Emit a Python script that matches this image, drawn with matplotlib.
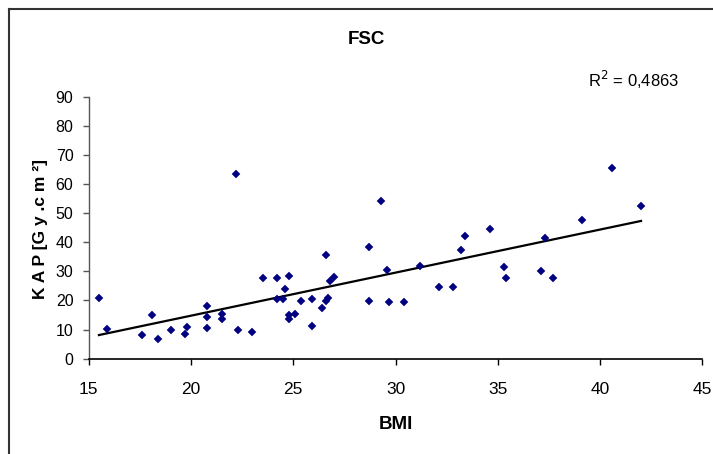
import numpy as np
import matplotlib.pyplot as plt
from matplotlib.lines import Line2D

# BMI vs KAP readings (FSC)
bmi = [15.5, 15.9, 17.6, 18.1, 18.4, 19.0, 19.7, 19.8, 20.8, 20.8, 20.8,
       21.5, 21.5, 22.2, 22.3, 23.0, 23.5, 24.2, 24.2, 24.5, 24.6, 24.8,
       24.8, 24.8, 25.1, 25.4, 25.9, 25.9, 26.4, 26.6, 26.6, 26.7, 26.8,
       27.0, 28.7, 28.7, 29.3, 29.6, 29.7, 30.4, 31.2, 32.1, 32.8, 33.2,
       33.4, 34.6, 35.3, 35.4, 37.1, 37.3, 37.7, 39.1, 40.6, 42.0]
kap = [20.9, 10.3, 8.0, 14.9, 6.9, 9.7, 8.4, 10.9, 18.2, 14.3, 10.7,
       13.8, 15.5, 63.3, 9.9, 9.2, 27.7, 27.7, 20.6, 20.6, 24.0, 28.4,
       15.0, 13.8, 15.5, 19.7, 20.5, 11.4, 17.5, 35.7, 19.8, 20.9, 26.6,
       28.1, 38.4, 19.7, 54.3, 30.4, 19.4, 19.4, 32.0, 24.6, 24.6, 37.3,
       42.1, 44.4, 31.5, 27.7, 30.0, 41.6, 27.7, 47.8, 65.6, 52.6]

title = "FSC"
r2_label = "R$^2$ = 0,4863"
x_ticks = [15, 20, 25, 30, 35, 40, 45]
y_ticks = [0, 10, 20, 30, 40, 50, 60, 70, 80, 90]

plt.rcParams["font.family"] = ["Liberation Sans", "DejaVu Sans"]

W, H = 713, 454
fig = plt.figure(figsize=(W / 100, H / 100), dpi=100)
ax = fig.add_axes([88.7 / W, 1 - 358.7 / H, (702.4 - 88.7) / W, (358.7 - 96.7) / H])

ax.plot(bmi, kap, linestyle="none", marker="D", markersize=3.9,
        color="#000080", markeredgewidth=0.3, clip_on=False, zorder=3)

# linear trendline through the data
coef = np.polyfit(bmi, kap, 1)
xs = np.array([min(bmi), max(bmi)])
ax.plot(xs, np.polyval(coef, xs), color="black", linewidth=1.6, zorder=2)

ax.set_xlim(15, 45)
ax.set_ylim(0, 90)
ax.set_xticks(x_ticks)
ax.set_yticks(y_ticks)
ax.tick_params(axis="x", direction="out", length=4.5, width=1, colors="black",
               labelsize=12.5, pad=12.5)
ax.tick_params(axis="y", direction="out", length=4.5, width=1, colors="#555555",
               labelcolor="black", labelsize=11.5, pad=6.5)

for side in ["top", "right"]:
    ax.spines[side].set_visible(False)
ax.spines["left"].set_color("#555555")
ax.spines["bottom"].set_color("black")
ax.spines["left"].set_linewidth(1)
ax.spines["bottom"].set_linewidth(1.2)

fig.text(366 / W, 1 - 39 / H, title, ha="center", va="center",
         fontsize=13.5, fontweight="bold")
fig.text(633.5 / W, 1 - 79.5 / H, r2_label, ha="center", va="center", fontsize=12)
fig.text(396 / W, 1 - 424.5 / H, "BMI", ha="center", va="center",
         fontsize=13.5, fontweight="bold")
fig.text(41 / W, 1 - 229 / H, "K A P [G y .c m ²]", ha="center", va="center",
         rotation=90, fontsize=12.5, fontweight="bold")

# chart area border (cropped on right and bottom)
border = dict(color="#333333", linewidth=1.5, transform=fig.transFigure)
fig.add_artist(Line2D([8.5 / W, 1.01], [1 - 9 / H, 1 - 9 / H], **border))
fig.add_artist(Line2D([8.5 / W, 8.5 / W], [1 - 9 / H, -0.01], **border))

fig.savefig("out.png", dpi=100)
